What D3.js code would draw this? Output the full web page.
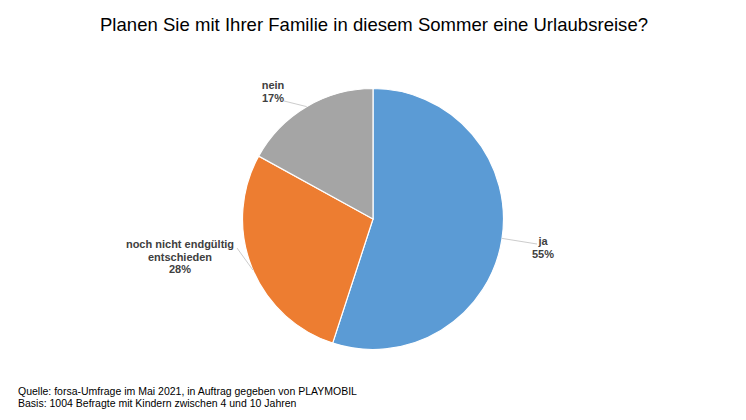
<!DOCTYPE html>
<html>
<head>
<meta charset="utf-8">
<script src="https://cdn.jsdelivr.net/npm/d3@7"></script>
<style>
  html, body { margin: 0; padding: 0; background: #fff; }
  svg { display: block; font-family: "Liberation Sans", Arial, sans-serif; }
</style>
</head>
<body>
<div id="chart"></div>
<script>
const categories = ["ja", "noch nicht endgültig entschieden", "nein"];
const values = [55, 28, 17];
const colors = ["#5b9bd5", "#ed7d31", "#a5a5a5"];
const labelLines = [["ja", "55%"], ["noch nicht endgültig", "entschieden", "28%"], ["nein", "17%"]];
const title = "Planen Sie mit Ihrer Familie in diesem Sommer eine Urlaubsreise?";
const notes = [
  "Quelle: forsa-Umfrage im Mai 2021, in Auftrag gegeben von PLAYMOBIL",
  "Basis: 1004 Befragte mit Kindern zwischen 4 und 10 Jahren"
];

const w = 746;
const h = 420;
const cx = 373;
const cy = 219;
const radius = 130.5;

// label placement relative to the pie centre, same order as categories
const labelPos = [[170, 26], [-193, 29], [-100, -130]];
const leaderEnd = [[164, 25], [-136, 29], [-89, -118]];
const leaderAngle = [1.72, 4.31, 5.75];

let svg = d3.select("#chart").append("svg")
    .attr("width", w)
    .attr("height", h);

svg.append("text")
    .attr("x", 374)
    .attr("y", 31)
    .attr("text-anchor", "middle")
    .attr("font-size", 18.5)
    .attr("textLength", 548)
    .attr("fill", "#000")
    .text(title);

let pie = d3.pie().sort(null).value(d => d);
let arc = d3.arc().innerRadius(0).outerRadius(radius);
let g = svg.append("g").attr("transform", "translate(" + cx + "," + cy + ")");

g.selectAll("path.slice")
    .data(pie(values))
    .join("path")
    .attr("class", "slice")
    .attr("d", arc)
    .attr("fill", (d, i) => colors[i])
    .attr("stroke", "#fff")
    .attr("stroke-width", 1.2);

// leader lines go from the rim out to the label
g.selectAll("line.leader")
    .data(categories)
    .join("line")
    .attr("class", "leader")
    .attr("x1", (d, i) => Math.sin(leaderAngle[i]) * radius)
    .attr("y1", (d, i) => -Math.cos(leaderAngle[i]) * radius)
    .attr("x2", (d, i) => leaderEnd[i][0])
    .attr("y2", (d, i) => leaderEnd[i][1])
    .attr("stroke", "#bfbfbf")
    .attr("stroke-width", 0.8);

let labels = g.selectAll("text.label")
    .data(categories)
    .join("text")
    .attr("class", "label")
    .attr("text-anchor", "middle")
    .attr("font-size", 11)
    .attr("font-weight", "bold")
    .attr("fill", "#404040");

labels.each(function (d, i) {
    d3.select(this).selectAll("tspan")
        .data(labelLines[i])
        .join("tspan")
        .attr("x", labelPos[i][0])
        .attr("y", (t, j) => labelPos[i][1] + j * 12.5)
        .text(t => t);
});

svg.selectAll("text.note")
    .data(notes)
    .join("text")
    .attr("class", "note")
    .attr("x", 18)
    .attr("y", (d, i) => 395 + i * 12)
    .attr("font-size", 10.5)
    .attr("fill", "#000")
    .text(d => d);
</script>
</body>
</html>
